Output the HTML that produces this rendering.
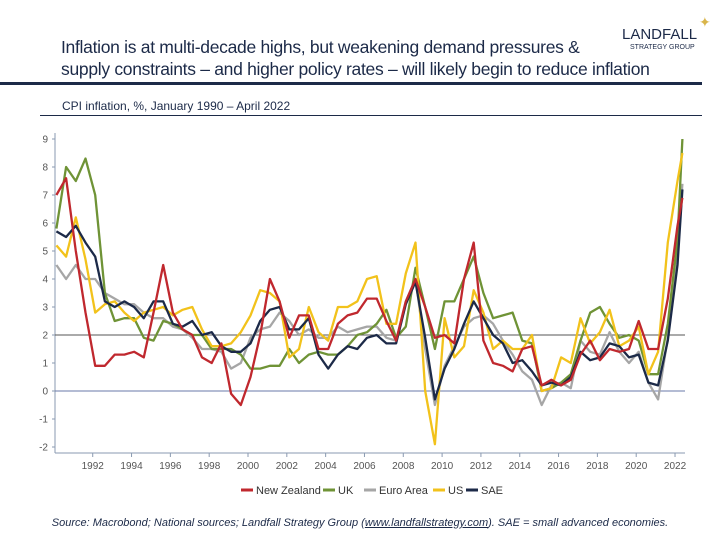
<!DOCTYPE html>
<html><head><meta charset="utf-8"><style>
body{margin:0;width:720px;height:540px;background:#fff;font-family:"Liberation Sans",sans-serif;overflow:hidden;position:relative}
.t{position:absolute;white-space:nowrap}
</style></head><body>
<div class="t" style="left:61px;top:36px;font-size:17.5px;line-height:22px;color:#1c2a48;letter-spacing:-0.3px">Inflation is at multi-decade highs, but weakening demand pressures &amp;<br>supply constraints – and higher policy rates – will likely begin to reduce inflation</div>
<div class="t" style="left:622px;top:26px;font-size:15px;color:#1c2a48">LANDFALL</div>
<div class="t" style="left:630px;top:44px;font-size:7px;color:#1c2a48">STRATEGY GROUP</div>
<div class="t" style="left:699px;top:14px;font-size:14px;color:#d9b54a">✦</div>
<div style="position:absolute;left:0;top:82px;width:702px;height:3px;background:#1c2a48"></div>
<div class="t" style="left:62px;top:99px;font-size:12px;color:#1c2a48">CPI inflation, %, January 1990 – April 2022</div>
<div style="position:absolute;left:40px;top:115px;width:662px;height:1px;background:#1c2a48"></div>
<svg id="c" width="720" height="540" style="position:absolute;left:0;top:0"></svg>
<div class="t" style="left:0;width:720px;text-align:center;top:517px;font-size:11px;font-style:italic;color:#1c2a48">Source: Macrobond; National sources; Landfall Strategy Group (<u>www.landfallstrategy.com</u>). SAE = small advanced economies.</div>
<script>
const dates=[];for(let y=1990;y<=2022;y+=0.5)dates.push(y);dates.push(2022.25);
const seriesNames=["New Zealand","UK","Euro Area","US","SAE"];
const nz=[7.0,7.6,5.0,2.8,0.9,0.9,1.3,1.3,1.4,1.2,2.8,4.5,2.8,2.2,2.0,1.2,1.0,1.7,-0.1,-0.5,0.5,2.0,4.0,3.2,1.9,2.7,2.7,1.5,1.5,2.4,2.7,2.8,3.3,3.3,2.5,1.8,3.2,4.0,3.0,1.9,2.0,1.7,4.0,5.3,1.8,1.0,0.9,0.7,1.5,1.6,0.2,0.4,0.2,0.4,1.3,1.8,1.1,1.5,1.4,1.5,2.5,1.5,1.5,3.3,5.9,6.9];
const uk=[5.8,8.0,7.5,8.3,7.0,3.5,2.5,2.6,2.6,1.9,1.8,2.5,2.4,2.2,2.0,2.0,1.5,1.5,1.5,1.3,0.8,0.8,0.9,0.9,1.5,1.0,1.3,1.4,1.3,1.3,1.6,2.0,2.1,2.4,2.9,1.9,2.3,4.4,3.0,1.5,3.2,3.2,4.0,4.8,3.5,2.6,2.7,2.8,1.8,1.7,0.0,0.1,0.3,0.6,1.8,2.8,3.0,2.4,1.9,2.0,1.8,0.6,0.6,2.4,5.4,9.0];
const ea=[4.5,4.0,4.5,4.0,4.0,3.5,3.3,3.1,3.1,2.8,2.6,2.6,2.3,2.2,1.9,1.5,1.5,1.4,0.8,1.0,1.9,2.2,2.3,2.8,2.5,2.0,2.2,1.9,1.9,2.3,2.1,2.2,2.3,2.3,1.9,1.8,3.2,4.0,1.5,-0.5,0.9,1.6,2.3,2.6,2.7,2.4,1.8,1.3,0.7,0.4,-0.5,0.2,0.3,0.1,1.8,1.4,1.3,2.1,1.4,1.0,1.4,0.3,-0.3,1.9,5.1,7.4];
const us=[5.2,4.8,6.2,4.7,2.8,3.1,3.2,2.8,2.5,2.8,2.9,3.0,2.7,2.9,3.0,2.2,1.6,1.6,1.7,2.1,2.7,3.6,3.5,3.2,1.2,1.5,3.0,2.1,1.8,3.0,3.0,3.2,4.0,4.1,2.4,2.4,4.2,5.3,0.0,-1.9,2.6,1.2,1.6,3.6,2.8,1.5,1.8,1.5,1.5,2.0,0.0,0.1,1.2,1.0,2.6,1.7,2.1,2.9,1.6,1.8,2.3,0.6,1.4,5.3,7.5,8.5];
const sae=[5.7,5.5,5.9,5.3,4.8,3.2,3.0,3.2,3.0,2.6,3.2,3.2,2.4,2.3,2.5,2.0,2.1,1.6,1.4,1.4,1.7,2.5,2.9,3.0,2.2,2.2,2.6,1.3,0.8,1.3,1.6,1.5,1.9,2.0,1.7,1.7,3.1,3.9,1.9,-0.3,0.8,1.5,2.4,3.2,2.6,2.0,1.7,1.0,1.1,0.7,0.2,0.3,0.2,0.5,1.4,1.1,1.2,1.7,1.6,1.2,1.3,0.3,0.2,1.8,4.5,7.2];
const yTicks=[-2,-1,0,1,2,3,4,5,6,7,8,9];
const xTicks=[1992,1994,1996,1998,2000,2002,2004,2006,2008,2010,2012,2014,2016,2018,2020,2022];
const colors=["#c0282e","#6f9336","#a6a6a6","#f2c21b","#1c2a48"];
const X=t=>53.9+(t-1990)*19.41, Y=v=>391-v*28;
const svg=document.getElementById('c'),NS="http://www.w3.org/2000/svg";
function mk(tag,a){const e=document.createElementNS(NS,tag);for(const k in a)e.setAttribute(k,a[k]);svg.appendChild(e);return e;}
let e=mk('line',{x1:55,y1:133,x2:55,y2:453,stroke:'#8a9ab0'});


e=mk('line',{x1:55,y1:453,x2:685,y2:453,stroke:'#8a9ab0'});


yTicks.forEach(v=>{
 e=mk('line',{x1:52,y1:Y(v),x2:55,y2:Y(v),stroke:'#8a9ab0'});
 
 
 e=mk('text',{x:48,y:Y(v)+3.5,'text-anchor':'end','font-size':10,fill:'#555','font-family':'Liberation Sans'});e.textContent=v;
 
 
});
xTicks.forEach(t=>{
 e=mk('line',{x1:X(t),y1:453,x2:X(t),y2:457,stroke:'#8a9ab0'});
 
 
 e=mk('text',{x:X(t),y:469,'text-anchor':'middle','font-size':10,fill:'#555','font-family':'Liberation Sans'});e.textContent=t;
 
 
});
[0,2].forEach(v=>{
 e=mk('line',{x1:55,y1:Y(v),x2:685,y2:Y(v),stroke:v?'#555':'#6a7aa8','stroke-width':1});
 
 
});
const order=[2,1,3,4,0];const all=[nz,uk,ea,us,sae];
order.forEach(i=>{
 const pts=dates.map((d,j)=>X(d+0.13).toFixed(1)+','+Y(all[i][j]).toFixed(1)).join(' ');
 e=mk('polyline',{points:pts,fill:'none',stroke:colors[i],'stroke-width':2.3,'stroke-linejoin':'round'});
 
 
});
const lx=[241,323,364,433,466];
seriesNames.forEach((n,i)=>{
 e=mk('line',{x1:lx[i],y1:490,x2:lx[i]+12,y2:490,stroke:colors[i],'stroke-width':3});
 
 
 e=mk('text',{x:lx[i]+15,y:494,'font-size':11,fill:'#333','font-family':'Liberation Sans'});e.textContent=n;
 
 
});
</script>
</body></html>
